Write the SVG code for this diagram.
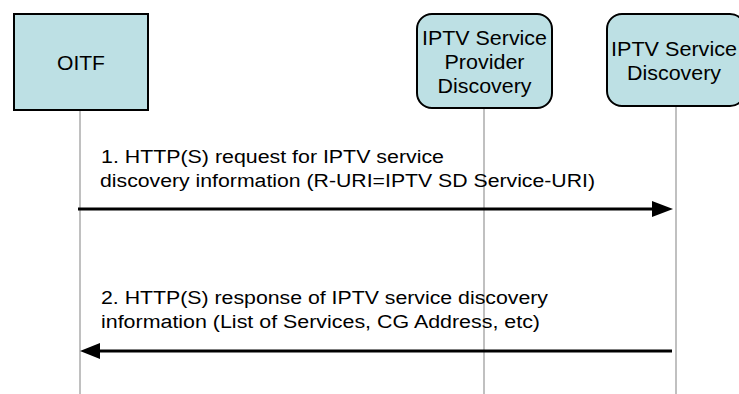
<svg xmlns="http://www.w3.org/2000/svg" width="739" height="394" viewBox="0 0 739 394">
<defs>
<style>
.box{fill:#bde0e4;stroke:#000;stroke-width:2}
.life{stroke:#c0c0c0;stroke-width:2;fill:none}
.ntxt{font-family:"Liberation Sans",Arial,sans-serif;font-size:21px;fill:#000;text-anchor:middle}
.mtxt{font-family:"Liberation Sans",Arial,sans-serif;font-size:18px;fill:#000}
.msg{stroke:#000;stroke-width:3;fill:none}
.head{fill:#000}
</style>
</defs>
<rect width="739" height="394" fill="#fff"/>
<g id="lifelines">
<line class="life" x1="80" y1="110" x2="80" y2="394"/>
<line class="life" x1="484" y1="108" x2="484" y2="394"/>
<line class="life" x1="676" y1="106" x2="676" y2="394"/>
</g>
<g id="oitf">
<rect class="box" x="14" y="14" width="134" height="96"/>
<text class="ntxt" x="81" y="70" textLength="48" lengthAdjust="spacingAndGlyphs">OITF</text>
</g>
<g id="provider">
<rect class="box" x="417" y="14" width="135" height="94" rx="15" ry="15"/>
<text class="ntxt" x="484.5" y="45" textLength="125" lengthAdjust="spacingAndGlyphs">IPTV Service</text>
<text class="ntxt" x="484.5" y="69" textLength="80" lengthAdjust="spacingAndGlyphs">Provider</text>
<text class="ntxt" x="484.5" y="93" textLength="94" lengthAdjust="spacingAndGlyphs">Discovery</text>
</g>
<g id="discovery">
<rect class="box" x="607" y="14" width="138" height="92" rx="15" ry="15"/>
<text class="ntxt" x="674" y="56" textLength="126" lengthAdjust="spacingAndGlyphs">IPTV Service</text>
<text class="ntxt" x="674" y="80" textLength="94" lengthAdjust="spacingAndGlyphs">Discovery</text>
</g>
<g id="connectors">
<g id="msg1">
<line class="msg" x1="78" y1="209" x2="656" y2="209"/>
<polygon class="head" points="652,201 673,209 652,217"/>
<text class="mtxt" x="101" y="163" textLength="343" lengthAdjust="spacingAndGlyphs">1. HTTP(S) request for IPTV service</text>
<text class="mtxt" x="100" y="187" textLength="495" lengthAdjust="spacingAndGlyphs">discovery information (R-URI=IPTV SD Service-URI)</text>
</g>
<g id="msg2">
<line class="msg" x1="672" y1="351" x2="96" y2="351"/>
<polygon class="head" points="80,351 100,343 100,359"/>
<text class="mtxt" x="101" y="304" textLength="447" lengthAdjust="spacingAndGlyphs">2. HTTP(S) response of IPTV service discovery</text>
<text class="mtxt" x="101" y="328" textLength="439" lengthAdjust="spacingAndGlyphs">information (List of Services, CG Address, etc)</text>
</g>
</g>
</svg>
